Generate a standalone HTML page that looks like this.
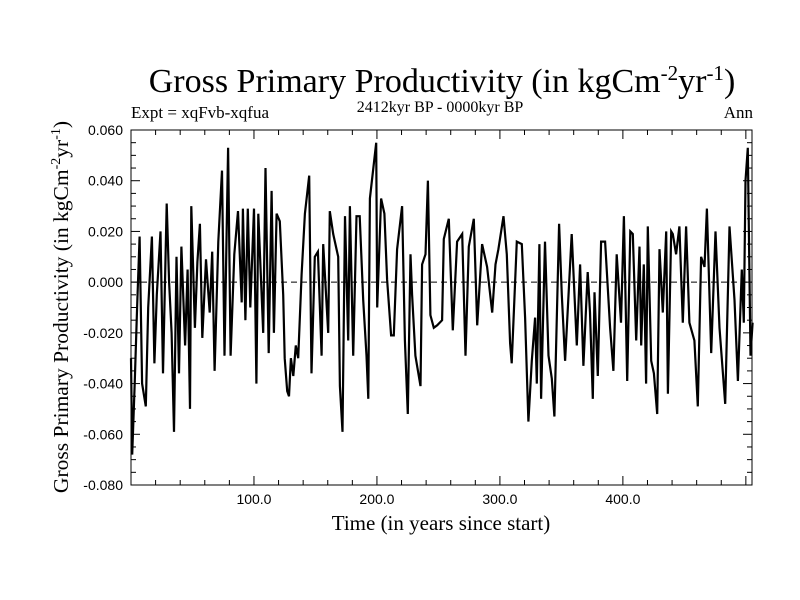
<!DOCTYPE html>
<html><head><meta charset="utf-8"><style>
body{margin:0;background:#fff}
svg{display:block;font-family:"Liberation Serif",serif}
</style></head><body>
<svg id="chart" width="800" height="600">
<text x="442" y="92" text-anchor="middle" font-size="34">Gross Primary Productivity (in kgCm<tspan dy="-12" font-size="21">-2</tspan><tspan dy="12">yr</tspan><tspan dy="-12" font-size="21">-1</tspan><tspan dy="12">)</tspan></text>
<text x="131" y="118" font-size="17">Expt = xqFvb-xqfua</text>
<text x="440" y="112" text-anchor="middle" font-size="16">2412kyr BP - 0000kyr BP</text>
<text x="753" y="118" text-anchor="end" font-size="17">Ann</text>
<text transform="translate(68,307) rotate(-90)" text-anchor="middle" font-size="21.5">Gross Primary Productivity (in kgCm<tspan dy="-8" font-size="14">-2</tspan><tspan dy="8">yr</tspan><tspan dy="-8" font-size="14">-1</tspan><tspan dy="8">)</tspan></text>
<text x="441" y="530" text-anchor="middle" font-size="21">Time (in years since start)</text>
<g id="axes"></g>
<rect x="131" y="130" width="621" height="355" fill="none" stroke="#000" stroke-width="1"/>
</svg>
<script>
const years=[0,1,3,5,7,9,12,14,17,19,21,24,26,29,31,33,35,37,39,41,44,46,48,49,52,54,56,58,61,64,66,68,71,74,76,79,81,84,87,90,91,93,95,97,100,102,
103.5,107.5,109.4,112,114.3,116.2,118.4,121,123.8,125,127,128.5,130,132,134,136,138.7,141.4,144.9,146.8,149.5,152,155,156.3,160.4,161.7,164.4,168.5,169.9,172,174,176.6,178,180.7,183.4,186,188.8,191.5,193,194.3,199.4,
200.2,203.4,206.1,208.3,211.5,213.7,216.4,220.5,222.7,225.1,227.3,228.6,231.3,235.4,236.7,239.5,241.4,243.5,246.2,249,253,254.4,258.4,261.7,265.2,269.3,272,274.7,278.8,281.5,285.5,289.6,293.7,296.4,
298.8,302.9,305.6,308.3,309.6,313.7,317.8,320.5,323.2,325.9,328.6,330,332.1,333.5,336.7,339.5,342.2,344.3,348.1,350.3,353,358.4,362.5,365.2,367.9,371.4,373.3,375.5,376.9,379.6,382.3,385.5,389.6,392.3,395,398.5,
400.8,403.5,406,408.1,410.8,413.5,414.9,417,418.9,420.3,423,425.2,427.9,429.8,432.5,435.2,436.6,439.3,440.6,443.3,446,448.7,451.4,454.1,458.2,460.9,463.6,466.4,468.3,471.8,475.3,478.6,483.2,486.7,490.8,493.5,496.7,498.3,499.7,501.6,503.8,505.5];
const gpp=[-0.030,-0.068,-0.040,-0.010,0.018,-0.040,-0.049,-0.010,0.018,-0.032,-0.005,0.020,-0.036,0.031,0.000,-0.020,-0.059,0.010,-0.036,0.014,-0.025,0.005,-0.050,0.030,-0.018,0.008,0.023,-0.022,0.009,-0.012,0.012,-0.035,0.016,0.044,-0.029,0.053,-0.029,0.011,0.028,-0.008,0.029,-0.015,0.029,-0.010,0.029,-0.040,
0.027,-0.020,0.045,-0.028,0.036,-0.020,0.027,0.024,-0.005,-0.030,-0.043,-0.045,-0.030,-0.037,-0.025,-0.030,0.003,0.027,0.042,-0.036,0.010,0.012,-0.029,0.015,-0.020,0.028,0.019,0.010,-0.041,-0.059,0.026,-0.023,0.030,-0.029,0.026,0.026,-0.007,-0.029,-0.046,0.033,0.055,
-0.010,0.033,0.027,0.001,-0.021,-0.021,0.013,0.030,-0.023,-0.052,0.011,-0.005,-0.029,-0.041,0.007,0.011,0.040,-0.013,-0.018,-0.017,-0.015,0.017,0.025,-0.019,0.016,0.019,-0.029,0.014,0.025,-0.017,0.015,0.006,-0.012,0.007,
0.013,0.026,0.011,-0.024,-0.032,0.016,0.015,-0.014,-0.055,-0.031,-0.014,-0.040,0.015,-0.046,0.016,-0.029,-0.038,-0.053,0.023,-0.005,-0.031,0.019,-0.025,0.007,-0.033,0.004,-0.012,-0.046,-0.004,-0.037,0.016,0.016,-0.018,-0.035,0.011,-0.016,
0.026,-0.039,0.020,0.019,-0.023,0.014,-0.025,0.007,-0.040,0.022,-0.031,-0.036,-0.052,0.013,-0.012,0.020,-0.044,0.020,0.019,0.011,0.022,-0.016,0.022,-0.016,-0.023,-0.049,0.010,0.006,0.029,-0.028,0.020,-0.018,-0.048,0.022,-0.007,-0.039,0.005,-0.016,0.040,0.053,-0.029,-0.016];
const yTicks=[-0.08,-0.06,-0.04,-0.02,0,0.02,0.04,0.06];
const yTickLabels=["-0.080","-0.060","-0.040","-0.020","0.000","0.020","0.040","0.060"];
const xTicks=[100,200,300,400];
const xTickLabels=["100.0","200.0","300.0","400.0"];
const X0=131,X1=752,Y0=130,Y1=485,XMIN=0,XMAX=505,YMIN=-0.08,YMAX=0.06;
const sx=v=>X0+(v-XMIN)/(XMAX-XMIN)*(X1-X0);
const sy=v=>Y1-(v-YMIN)/(YMAX-YMIN)*(Y1-Y0);
const NS="http://www.w3.org/2000/svg";
const g=document.getElementById('axes');
function mk(t,a){const e=document.createElementNS(NS,t);for(const k in a)e.setAttribute(k,a[k]);g.appendChild(e);return e;}
for(let v=YMIN;v<=YMAX+1e-9;v+=0.005){const y=sy(v);const major=Math.abs(Math.round(v*1000)%20)<1e-6;const L=major?9:5;
const t1=mk('line',{x1:X0,y1:y,x2:X0+L,y2:y,stroke:'#000'});


const t2=mk('line',{x1:X1,y1:y,x2:X1-L,y2:y,stroke:'#000'});

}
for(let v=20;v<XMAX;v+=20){const x=sx(v);const L=(v%100===0)?9:5;
const t1=mk('line',{x1:x,y1:Y1,x2:x,y2:Y1-L,stroke:'#000'});


const t2=mk('line',{x1:x,y1:Y0,x2:x,y2:Y0+L,stroke:'#000'});

}
yTicks.forEach((v,i)=>{const t=mk('text',{x:X0-8,y:sy(v)+5,'text-anchor':'end','font-size':'14','font-family':'Liberation Sans, sans-serif'});t.textContent=yTickLabels[i];

});
xTicks.forEach((v,i)=>{const t=mk('text',{x:sx(v),y:Y1+19,'text-anchor':'middle','font-size':'14','font-family':'Liberation Sans, sans-serif'});t.textContent=xTickLabels[i];

});
const z=mk('line',{x1:X0,y1:sy(0),x2:X1,y2:sy(0),stroke:'#000','stroke-dasharray':'6,4'});


const p=mk('polyline',{points:years.map((x,i)=>sx(x).toFixed(1)+','+sy(gpp[i]).toFixed(1)).join(' '),fill:'none',stroke:'#000','stroke-width':'2.2','stroke-linejoin':'miter'});


</script>
</body></html>
